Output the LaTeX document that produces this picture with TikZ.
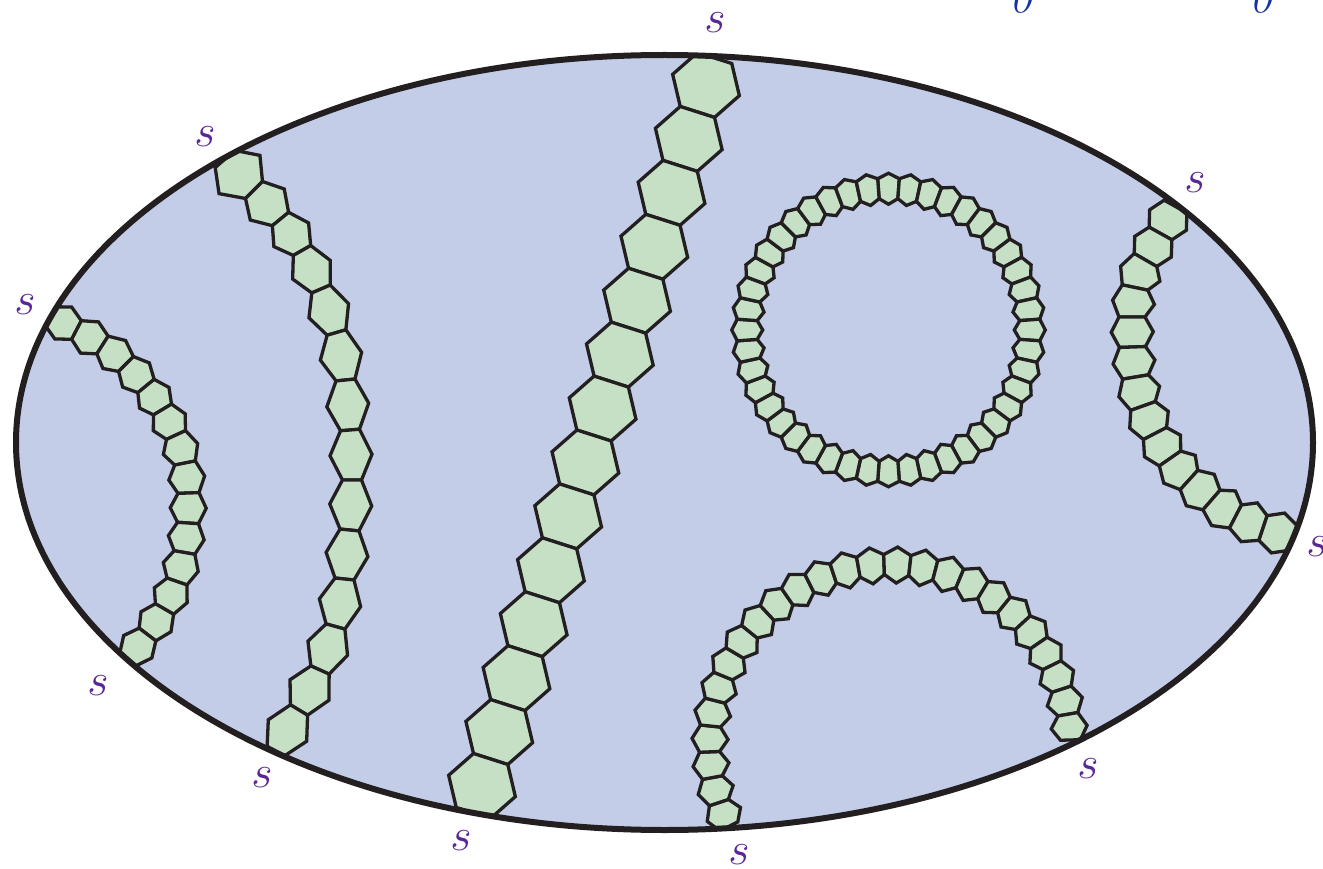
\RequirePackage{fix-cm}
\documentclass[tikz,border=0pt]{standalone}
\usetikzlibrary{calc}
\definecolor{ellfill}{RGB}{195,205,232}
\definecolor{hexfill}{RGB}{197,224,197}
\definecolor{edgecol}{RGB}{35,31,32}
\definecolor{spurple}{RGB}{88,40,150}
\definecolor{zblue}{RGB}{25,50,165}

\newcommand\chaindef[1]{%
  \foreach \px/\py/\pe/\ph [count=\ci] in {#1}{%
    \coordinate (p\ci) at (\px,\py);
    \expandafter\xdef\csname cE\ci\endcsname{\pe}%
    \expandafter\xdef\csname cH\ci\endcsname{\ph}%
    \xdef\chainN{\ci}}%
}
\newcommand\chaindraw{%
  \pgfmathtruncatemacro\chainLast{\chainN-1}%
  \foreach \i in {2,...,\chainLast}{%
    \pgfmathtruncatemacro\im{\i-1}%
    \pgfmathtruncatemacro\ip{\i+1}%
    \pgfmathsetmacro\eA{(\csname cE\im\endcsname+\csname cE\i\endcsname)/2}%
    \pgfmathsetmacro\eB{(\csname cE\i\endcsname+\csname cE\ip\endcsname)/2}%
    \edef\hh{\csname cH\i\endcsname}%
    \coordinate (jm) at ($(p\im)!0.5!(p\i)$);
    \coordinate (jp) at ($(p\i)!0.5!(p\ip)$);
    \coordinate (mm) at ($(jm)!0.5!(jp)$);
    \draw[hexs] ($(jm)!\eA pt!90:(p\i)$) -- ($(mm)!\hh pt!90:(jp)$)
      -- ($(jp)!\eB pt!90:(p\ip)$) -- ($(jp)!\eB pt!-90:(p\ip)$)
      -- ($(mm)!\hh pt!-90:(jp)$) -- ($(jm)!\eA pt!-90:(p\i)$) -- cycle;
  }%
}

\begin{document}
\begin{tikzpicture}[x=1pt,y=-1pt,
  hexs/.style={draw=edgecol, fill=hexfill, line width=3.3pt, line join=miter},
  lab/.style={text=spurple, inner sep=0pt, font=\fontsize{46}{50}\selectfont},
  zlab/.style={text=zblue, inner sep=0pt, anchor=base, font=\fontsize{46}{50}\selectfont\itshape}]
\useasboundingbox (0,0) rectangle (1323,869);

% background disc
\fill[ellfill] (664.5,442.5) ellipse [x radius=648.5, y radius=387.5];

\begin{scope}
\clip (664.5,442.5) ellipse [x radius=648.5, y radius=387.5];

% chain A (far left)
\chaindef{37/309/10.5/18, 63/323/10.5/18, 90/337/10.5/18, 115/353/10.5/18, 137/375/10.5/18,
  155/397/10.5/18, 170/422/10.5/18, 182/448/10.5/18, 188/478/10.5/18, 189/508/10.5/18,
  187/538/10.5/18, 182/567/10.5/18, 172/596/10.5/18, 157/622/10.5/18, 138/647/10.5/18, 118/671/10.5/18}
\chaindraw

% chain B
\chaindef{211/143/13/28, 239/175/13/28, 269/205/11/23, 292/233/10/21, 312/268/10/21,
  330/310/10/21, 343/355/9.5/21, 348/405/9.5/21, 352/455/9.5/21, 352/505/9.5/21,
  347/555/9.5/21, 342/603/9.5/21, 329/650/10/21, 311/690/10/22, 287/730/10/22, 265/772/10/22}
\chaindraw

% chain C (large, straight)
\foreach \k in {1,...,16}{%
  \coordinate (p\k) at ({723.23-17.23*(\k-1)},{31.08+53.92*(\k-1)});
  \expandafter\xdef\csname cE\k\endcsname{18}%
  \expandafter\xdef\csname cH\k\endcsname{35}%
}
\xdef\chainN{16}
\chaindraw

% ring
\foreach \k in {1,...,46}{%
  \pgfmathsetmacro\ang{-90+(\k-2)*360/44}%
  \coordinate (p\k) at ({888.5+142*cos(\ang)},{330+142*sin(\ang)});
  \expandafter\xdef\csname cE\k\endcsname{10}%
  \expandafter\xdef\csname cH\k\endcsname{15.5}%
}
\xdef\chainN{46}
\chaindraw

% arch at bottom right
\foreach \k in {1,...,27}{%
  \pgfmathsetmacro\ang{157.3+(\k-2)*197/24}%
  \coordinate (p\k) at ({890+181*cos(\ang)},{745+181*sin(\ang)});
  \expandafter\xdef\csname cE\k\endcsname{10}%
  \expandafter\xdef\csname cH\k\endcsname{18}%
}
\xdef\chainN{27}
\chaindraw

% chain F (right)
\chaindef{1183/193/13/21, 1168/220/13/21, 1153/247/13/21, 1138/273/13/21, 1132/302/13/21,
  1132/332/13/21, 1133/362/13/21, 1138/392/13/21, 1148/420/13/21, 1162/447/13/21,
  1178/470/13/21, 1200/490/13/21, 1223/510/13/21, 1248/523/13/21, 1278/533/13/21, 1308/543/13/21}
\chaindraw
\end{scope}

% outline
\draw[edgecol, line width=6pt] (664.5,442.5) ellipse [x radius=648.5, y radius=387.5];

% labels
\node[lab] (s1) at (715,23) {$s$};
\node[lab] (s2) at (205,137) {$s$};
\node[lab] (s3) at (25,305) {$s$};
\node[lab] (s4) at (98,686) {$s$};
\node[lab] (s5) at (262,778) {$s$};
\node[lab] (s6) at (461,841) {$s$};
\node[lab] (s7) at (739,855) {$s$};
\node[lab] (s8) at (1088,769) {$s$};
\node[lab] (s9) at (1317,547) {$s$};
\node[lab] (s10) at (1195,183) {$s$};
\node[zlab] (z1) at (1021,13) {0};
\node[zlab] (z2) at (1261,13) {0};
\end{tikzpicture}
\end{document}
